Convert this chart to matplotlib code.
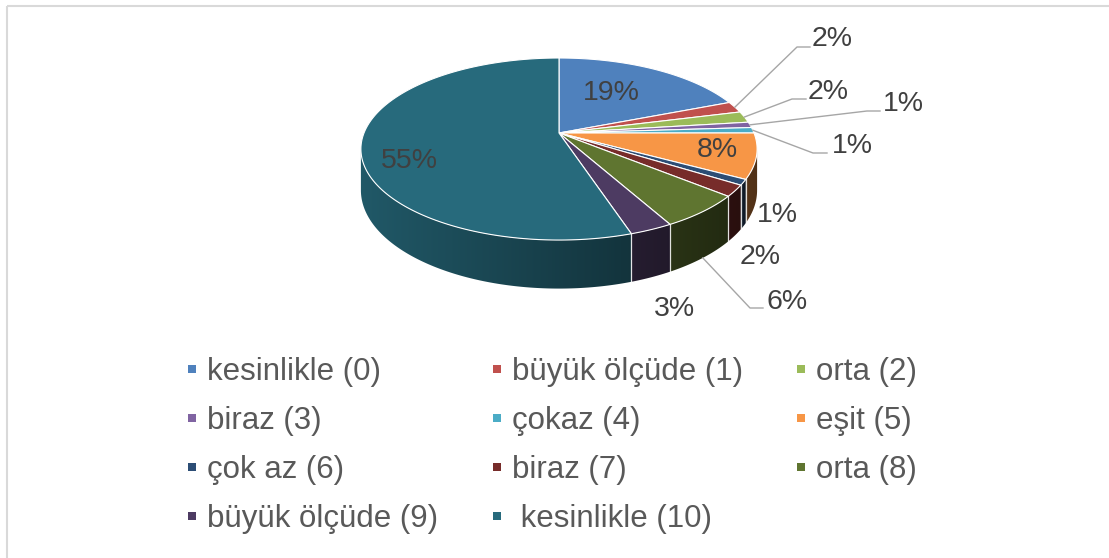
import numpy as np
import matplotlib
matplotlib.use("Agg")
import matplotlib.pyplot as plt
from matplotlib.patches import Polygon, Rectangle
from matplotlib.colors import to_rgb

# --- data -------------------------------------------------------------
categories = ["kesinlikle (0)", "büyük ölçüde (1)", "orta (2)",
              "biraz (3)", "çokaz (4)", "eşit (5)",
              "çok az (6)", "biraz (7)", "orta (8)",
              "büyük ölçüde (9)", " kesinlikle (10)"]
percent = [19, 2, 2, 1, 1, 8, 1, 2, 6, 3, 55]
colors = ["#4F81BD", "#C0504D", "#9BBB59", "#8064A2", "#4BACC6", "#F79646",
          "#2C4D75", "#772C2A", "#5F7530", "#4D3B62", "#276A7C"]

# --- 3-D pie geometry (pixel space, y downwards) ------------------------
CX, CY = 559.0, 133.0      # apex of the pie on the top face
A, B = 195.0, 88.2         # half-width / half-depth of the top face
K = 0.176                  # perspective strength
H = 40.0                   # thickness of the pie


def proj(theta_deg, r=1.0, z=0.0):
    t = np.radians(theta_deg)
    u = r * np.sin(t)
    v = r * np.cos(t)
    s = 1.0 / (1.0 + K * v)
    return CX + A * u * s, CY - B * v * s + H * z * s


def shade(x):
    # side-wall brightness: lit from the left, darker towards the right
    u = np.clip((x - CX) / A, -1.05, 1.05)
    return 0.58 - 0.25 * u


W, Hpx = 1109, 558
fig = plt.figure(figsize=(W / 100, Hpx / 100), dpi=100)
ax = fig.add_axes([0, 0, 1, 1])

# chart-area frame
ax.plot([6.5, 6.5], [Hpx, 5.5], color="#d9d9d9", lw=1.5, solid_capstyle="butt")
ax.plot([6.5, W], [5.5, 5.5], color="#d9d9d9", lw=1.5, solid_capstyle="butt")

total = float(sum(percent))
bounds = np.concatenate([[0.0], np.cumsum(percent) / total * 360.0])

# --- side wall (front-facing part only) --------------------------------
front_a = np.degrees(np.arccos(-K))
front_b = 360.0 - front_a
for i, c in enumerate(colors):
    t0, t1 = max(bounds[i], front_a), min(bounds[i + 1], front_b)
    if t1 <= t0:
        continue
    n = max(2, int(np.ceil((t1 - t0) / 0.5)))
    ts = np.linspace(t0, t1, n + 1)
    top = [proj(t, 1, 0) for t in ts]
    bot = [proj(t, 1, 1) for t in ts[::-1]]
    poly = Polygon(top + bot, closed=True, facecolor="none", edgecolor="none")
    ax.add_patch(poly)
    xs = np.array([p[0] for p in top + bot])
    ys = np.array([p[1] for p in top + bot])
    x0, x1 = xs.min() - 1, xs.max() + 1
    y0, y1 = ys.min() - 1, ys.max() + 1
    gx = np.linspace(x0, x1, 200)
    base = np.array(to_rgb(c))
    img = np.clip(base[None, None, :] * shade(gx)[None, :, None], 0, 1)
    img = np.repeat(img, 2, axis=0)
    im = ax.imshow(img, extent=[x0, x1, y1, y0], aspect="auto",
                   interpolation="bilinear", zorder=2)
    im.set_clip_path(poly)

# white seams on the wall between slices
for t in bounds[1:-1]:
    if front_a < t < front_b:
        xa, ya = proj(t, 1, 0)
        xb, yb = proj(t, 1, 1)
        ax.plot([xa, xb], [ya, yb], color="white", lw=0.9, alpha=0.85, zorder=3)

# --- top face ----------------------------------------------------------
for i, c in enumerate(colors):
    t0, t1 = bounds[i], bounds[i + 1]
    n = max(2, int(np.ceil((t1 - t0) / 0.5)))
    ts = np.linspace(t0, t1, n + 1)
    pts = [proj(0, 0, 0)] + [proj(t, 1, 0) for t in ts]
    ax.add_patch(Polygon(pts, closed=True, facecolor=c, edgecolor="white",
                         lw=0.8, joinstyle="round", zorder=4))

# --- data labels -------------------------------------------------------
label_color = "#404040"
lead_color = "#a6a6a6"
fs_lab = 20.5
font = "Liberation Sans"

# text centre, and for leader labels the elbow and end of the leader
label_pos = {
    0: (611, 93), 5: (717, 150), 10: (409, 161),
    6: (777, 215), 7: (760, 257), 9: (674, 309),
    1: (832, 39), 2: (828, 92), 3: (903, 104), 4: (852, 146), 8: (787, 302),
}
leaders = {
    1: ((797, 47), (810, 47), 0),
    2: ((792, 99), (806, 99), 0),
    3: ((867, 111), (880, 111), 0),
    4: ((813, 153), (827, 153), 0),
    8: ((750, 308), (763, 308), 1),
}
for i, p in enumerate(percent):
    pct = int(round(p / total * 100))
    x, y = label_pos[i]
    ax.text(x, y, f"{pct}%", fontsize=fs_lab, family=font, color=label_color,
            ha="center", va="center", zorder=6)
    if i in leaders:
        elbow, end, z = leaders[i]
        mid = 0.5 * (bounds[i] + bounds[i + 1])
        sx, sy = proj(mid, 1, z)
        ax.plot([sx, elbow[0], end[0]], [sy, elbow[1], end[1]],
                color=lead_color, lw=1.0, zorder=5)

# --- legend ------------------------------------------------------------
col_x = [188, 493, 797]
row_y = [369, 418, 467, 516]
for i, (name, c) in enumerate(zip(categories, colors)):
    r, k = divmod(i, 3)
    mx, my = col_x[k], row_y[r]
    ax.add_patch(Rectangle((mx, my - 4), 8, 8, facecolor=c, edgecolor="none",
                           zorder=5))
    ax.text(mx + 19, my + 3, name, fontsize=22.5, family=font, color="#595959",
            ha="left", va="center", zorder=5)

ax.set_xlim(0, W)
ax.set_ylim(Hpx, 0)
ax.axis("off")

fig.savefig("out.png", dpi=100, facecolor="white")
